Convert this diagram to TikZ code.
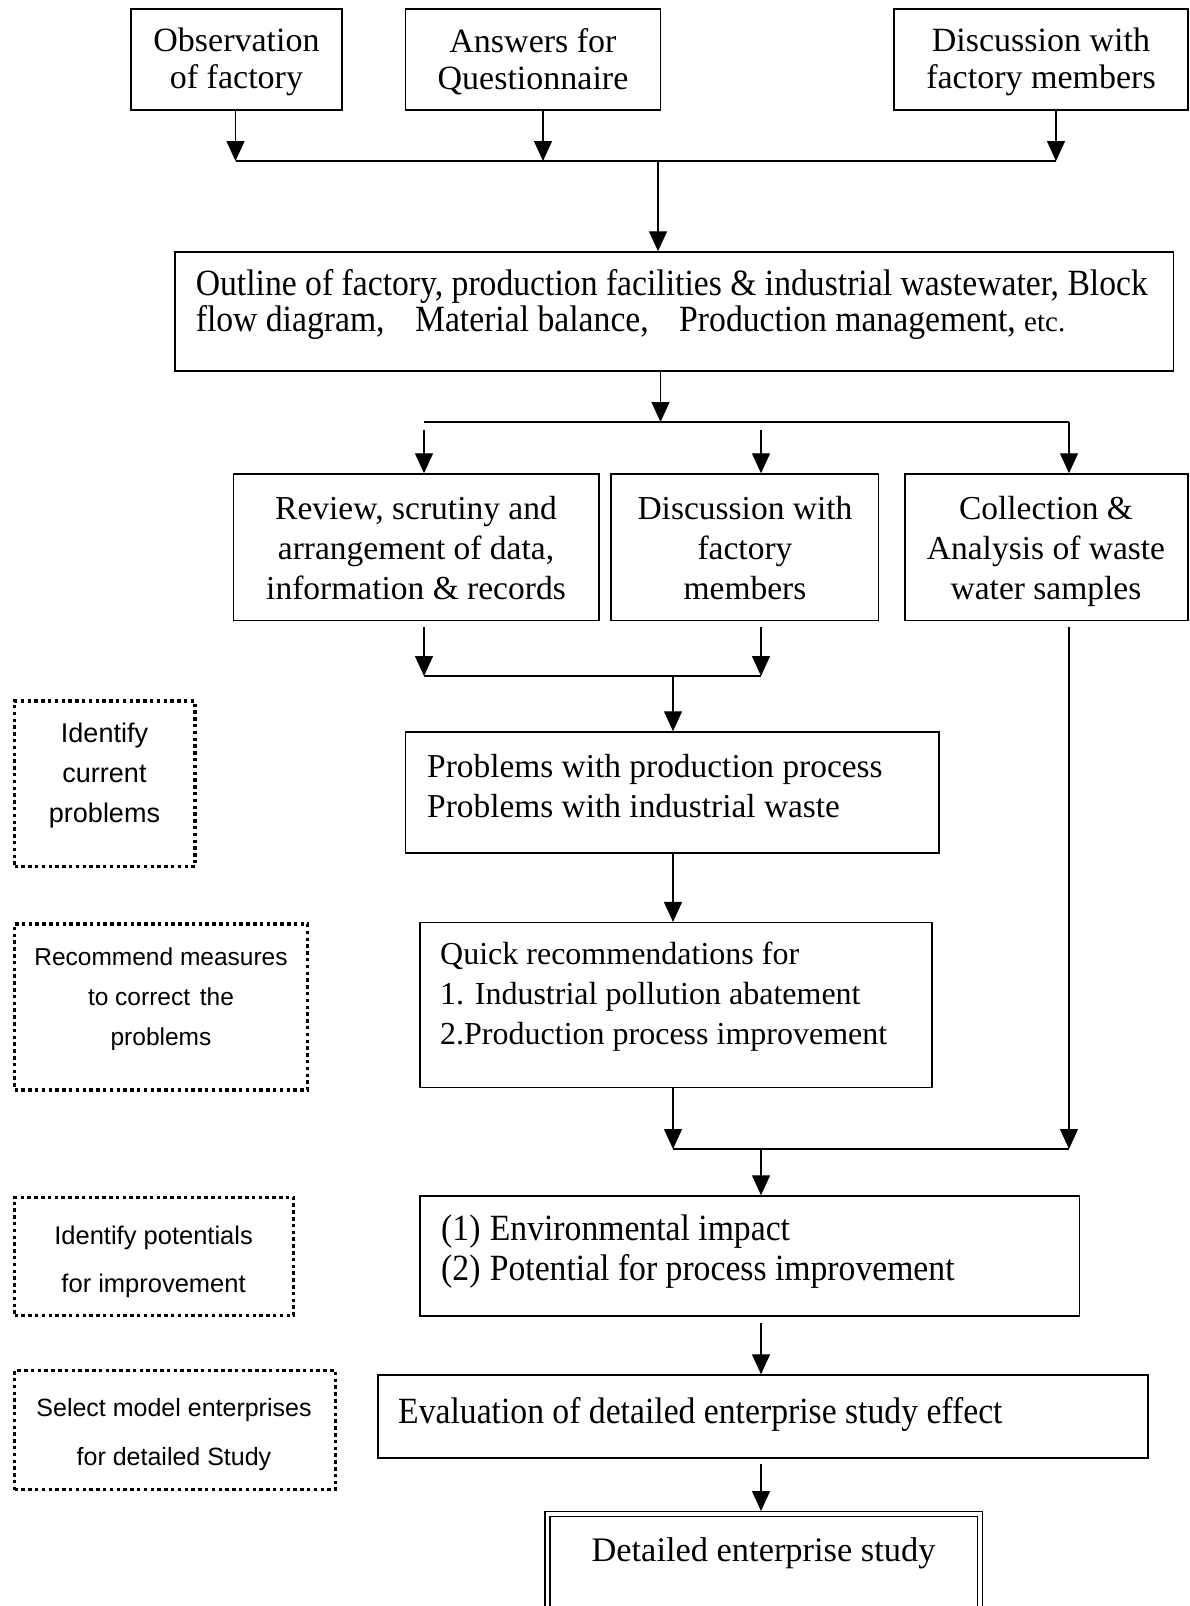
\documentclass[tikz,border=0pt]{standalone}
\usepackage{fontspec}
\setmainfont{Liberation Serif}
\setsansfont{Liberation Sans}
\newfontfamily\narrowserif[FakeStretch=0.91]{Liberation Serif}
\usetikzlibrary{arrows.meta,fit}

\newcommand{\setfs}[2]{\fontsize{#1pt}{#2pt}\selectfont}

\tikzset{
  box/.style={draw, line width=1.5pt, inner sep=0pt},
  notebox/.style={draw, line width=3.6pt, dash pattern=on 3.5pt off 3.3pt, inner sep=0pt},
  arr/.style={line width=1.4pt, -{Triangle[width=18pt,length=20pt]}},
  wire/.style={line width=1.4pt},
  txt/.style={inner sep=0pt, align=center},
  ltxt/.style={inner sep=0pt, align=left, anchor=west},
}

\begin{document}
\begin{tikzpicture}[x=1pt,y=-1pt]
\useasboundingbox (0,0) rectangle (1190,1606);
\fill[white] (0,0) rectangle (1190,1606);
\clip (0,0) rectangle (1190,1606);

% ---- input boxes ----
\node[box, fit={(131,9) (342,110)}] (obs) {};
\node[box, fit={(405.5,9) (660.5,110)}] (ans) {};
\node[box, fit={(894,9) (1188,110)}] (disc1) {};
\node[txt, font=\setfs{34}{37}] (tobs) at (236.5,62) {Observation\\of factory};
\node[txt, font=\setfs{34}{37}] (tans) at (533,62) {Answers for\\Questionnaire};
\node[txt, font=\setfs{34}{37}] (tdisc1) at (1041,62) {Discussion with\\factory members};

% ---- outline box ----
\node[box, fit={(175,252) (1173.5,371)}] (outline) {};
\node[ltxt, font=\narrowserif\setfs{37}{36}] (tout) at (195.6,304.6)
  {Outline of factory, production facilities \& industrial wastewater, Block\\
   flow diagram,\hspace{22pt} Material balance,\hspace{22pt} Production management, {\rmfamily\setfs{29}{36}etc.}};

% ---- second row ----
\node[box, fit={(233.5,474) (599,620.5)}] (review) {};
\node[box, fit={(611,474) (878.5,620.5)}] (disc2) {};
\node[box, fit={(905,474) (1188,620.5)}] (coll) {};
\node[txt, font=\setfs{33.5}{40}] (trev) at (416,548) {Review, scrutiny and\\arrangement of data,\\information \& records};
\node[txt, font=\setfs{33.5}{40}] (tdisc2) at (745,548) {Discussion with\\factory\\members};
\node[txt, font=\setfs{33.5}{40}] (tcoll) at (1046,551) {Collection \&\\Analysis of waste\\water samples};

% ---- problems and recommendations ----
\node[box, fit={(405.5,732) (939,853)}] (prob) {};
\node[ltxt, font=\setfs{33.4}{40}] (tprob) at (427,786) {Problems with production process\\Problems with industrial waste};
\node[box, fit={(420,922.7) (932,1087.6)}] (quick) {};
\node[ltxt, font=\setfs{32}{40}] (tquick) at (440,997) {Quick recommendations for\\1. Industrial pollution abatement\\2.Production process improvement};

% ---- impact, evaluation, study ----
\node[box, fit={(420,1196) (1079.4,1316)}] (env) {};
\node[ltxt, font=\narrowserif\setfs{37}{40}] (tenv) at (441,1252) {(1)\hspace{1pt} Environmental impact\\(2)\hspace{1pt} Potential for process improvement};
\node[box, fit={(378,1375) (1148,1458)}] (eval) {};
\node[ltxt, font=\narrowserif\setfs{37}{40}] (teval) at (398,1414) {Evaluation of detailed enterprise study effect};
\node[box, double, double distance=3.4pt, line width=1.6pt, fit={(547.5,1514) (980,1660)}] (det) {};
\node[txt, font=\setfs{34.4}{40}] (tdet) at (763.5,1553) {Detailed enterprise study};

% ---- side notes ----
\node[notebox, fit={(14.5,701) (195,866.5)}] (n1) {};
\node[notebox, fit={(14.5,924) (307.5,1090)}] (n2) {};
\node[notebox, fit={(14.5,1197.5) (293.5,1315.5)}] (n3) {};
\node[notebox, fit={(14.5,1370.5) (335.5,1489.5)}] (n4) {};
\node[txt, font=\sffamily\setfs{27}{40}] (tn1) at (104.5,776) {Identify\\current\\problems};
\node[txt, font=\sffamily\setfs{24.5}{40}] (tn2) at (161,999) {Recommend measures\\to correct\hspace{3pt} the\\problems};
\node[txt, font=\sffamily\setfs{25.5}{48}] (tn3) at (153.6,1262) {Identify potentials\\for improvement};
\node[txt, font=\sffamily\setfs{25}{49}] (tn4) at (174,1434.5) {Select model enterprises\\for detailed Study};

% ---- connectors: inputs to outline ----
\coordinate (h1a) at (235.5,161);
\coordinate (h1b) at (543,161);
\coordinate (h1c) at (1056,161);
\coordinate (h1m) at (658,161);
\draw[wire] (h1a) -- (h1c);
\draw[arr] (obs.south -| h1a) -- (h1a);
\draw[arr] (ans.south -| h1b) -- (h1b);
\draw[arr] (disc1.south -| h1c) -- (h1c);
\draw[arr] (h1m) -- (h1m |- outline.north);

% ---- outline to second row ----
\coordinate (h2m) at (660.5,422);
\coordinate (h2a) at (424,422);
\coordinate (h2c) at (1069,422);
\coordinate (s2a) at (424,430);
\coordinate (s2b) at (761,430);
\draw[arr] (outline.south -| h2m) -- (h2m);
\draw[wire] (h2a) -- (h2c);
\draw[arr] (s2a) -- (s2a |- review.north);
\draw[arr] (s2b) -- (s2b |- disc2.north);
\draw[arr] (h2c) -- (h2c |- coll.north);

% ---- second row to problems ----
\coordinate (s3a) at (424,627);
\coordinate (s3b) at (761,627);
\coordinate (h3a) at (424,676);
\coordinate (h3b) at (761,676);
\coordinate (h3m) at (673,676);
\draw[arr] (s3a) -- (h3a);
\draw[arr] (s3b) -- (h3b);
\draw[wire] (h3a) -- (h3b);
\draw[arr] (h3m) -- (h3m |- prob.north);
\draw[arr] (prob.south -| h3m) -- (h3m |- quick.north);

% ---- recommendations and samples to impact ----
\coordinate (h4a) at (673,1149);
\coordinate (h4b) at (1069,1149);
\coordinate (h4m) at (761,1149);
\coordinate (s4b) at (1069,627);
\draw[arr] (quick.south -| h4a) -- (h4a);
\draw[arr] (s4b) -- (h4b);
\draw[wire] (h4a) -- (h4b);
\draw[arr] (h4m) -- (h4m |- env.north);

% ---- down to the detailed study ----
\coordinate (s5) at (761,1323);
\coordinate (s6) at (761,1464);
\coordinate (e6) at (761,1511);
\draw[arr] (s5) -- (s5 |- eval.north);
\draw[arr] (s6) -- (e6);
\end{tikzpicture}
\end{document}
